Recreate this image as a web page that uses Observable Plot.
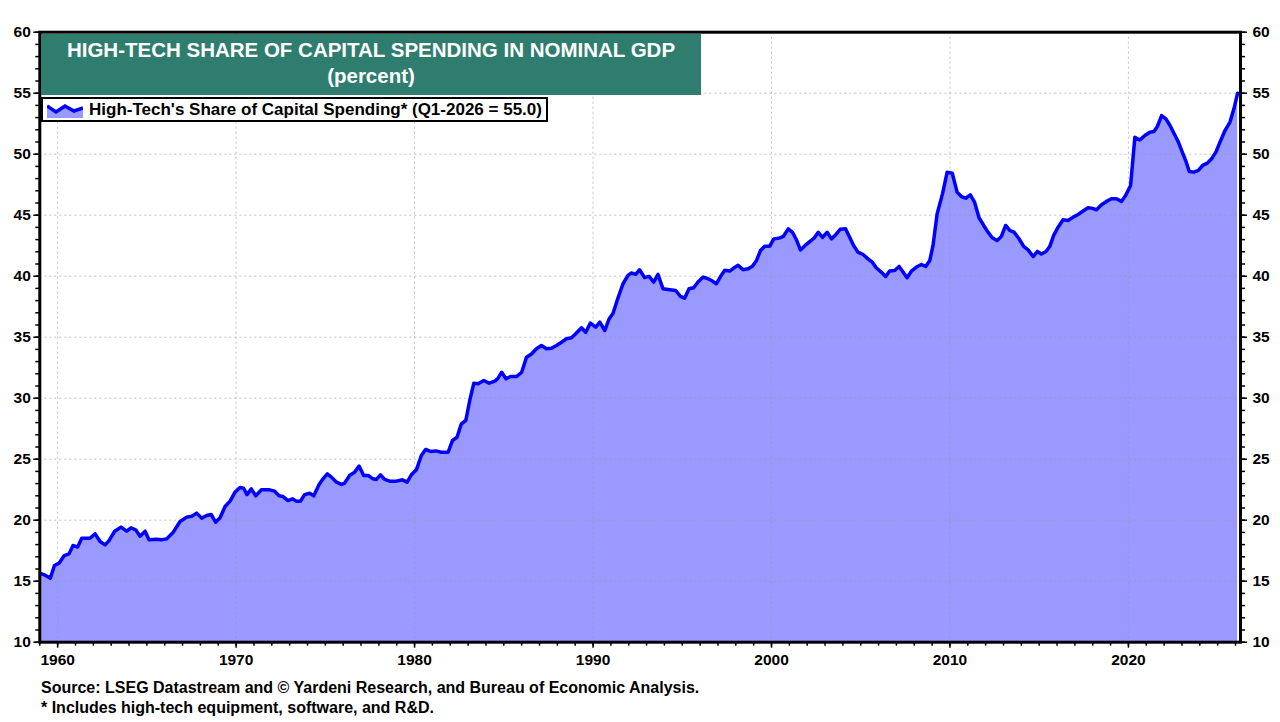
<!DOCTYPE html>
<html>
<head>
<meta charset="utf-8">
<script src="https://cdn.jsdelivr.net/npm/d3@7"></script>
<script src="https://cdn.jsdelivr.net/npm/@observablehq/plot@0.6"></script>
<style>
  html, body { margin: 0; padding: 0; background: #fff; }
  body { font-family: "Liberation Sans", Arial, sans-serif; }
  #wrap { position: relative; width: 1280px; height: 722px; overflow: hidden; background: #fff; }
  #title {
    position: absolute; left: 41px; top: 34px; width: 660px; height: 61px;
    background: #2e7d6e; color: #fff; font-weight: bold; font-size: 20.5px;
    text-align: center; line-height: 26px; padding-top: 3px; box-sizing: border-box;
  }
  #legend {
    position: absolute; left: 41px; top: 97px; width: 507px; height: 25px;
    background: #fff; border: 2px solid #000; box-sizing: border-box;
    font-weight: bold; font-size: 17px; color: #000; display: flex; align-items: center;
  }
  #legend svg { margin-left: 4px; margin-right: 6px; }
  #caption {
    font-weight: bold; font-size: 16px; color: #000; line-height: 20px;
    padding-left: 41px; padding-top: 6px;
  }
</style>
</head>
<body>
<div id="wrap">
  <div id="chart"></div>
  <div id="caption">
    <div>Source: LSEG Datastream and © Yardeni Research, and Bureau of Economic Analysis.</div>
    <div>* Includes high-tech equipment, software, and R&amp;D.</div>
  </div>
  <div id="title">HIGH-TECH SHARE OF CAPITAL SPENDING IN NOMINAL GDP<br>(percent)</div>
  <div id="legend">
    <svg width="36" height="16" viewBox="0 0 36 16">
      <polygon points="0,4 9,10 18,4 27,9 36,6 36,16 0,16" fill="#9999ff"></polygon>
      <polyline points="0,4 9,10 18,4 27,9 36,6" fill="none" stroke="#0000ff" stroke-width="3.5"></polyline>
    </svg>
    <span>High-Tech's Share of Capital Spending* (Q1-2026 = 55.0)</span>
  </div>
</div>
<script>
// Decimal-year positions of readings (quarterly series)
const dates = [
  1959.10,1959.33,1959.59,1959.82,1960.08,1960.37,1960.64,1960.86,1961.12,1961.35,1961.81,
  1962.10,1962.38,1962.66,1962.88,1963.18,1963.55,1963.87,1964.11,1964.37,1964.62,1964.90,
  1965.12,1965.55,1965.83,1966.11,1966.48,1966.86,1967.23,1967.51,1967.79,1968.07,1968.35,
  1968.60,1968.85,1969.10,1969.38,1969.66,1969.94,1970.22,1970.42,1970.61,1970.85,1971.10,
  1971.41,1971.88,1972.16,1972.41,1972.63,1972.91,1973.15,1973.38,1973.60,1973.84,1974.12,
  1974.35,1974.65,1974.87,1975.11,1975.34,1975.62,1975.90,1976.08,1976.36,1976.64,1976.89,
  1977.15,1977.40,1977.67,1977.86,1978.09,1978.33,1978.61,1978.98,1979.32,1979.58,1979.82,
  1980.10,1980.38,1980.62,1980.89,1981.18,1981.50,1981.88,1982.12,1982.38,1982.62,1982.87,
  1983.09,1983.32,1983.56,1983.88,1984.18,1984.50,1984.68,1984.88,1985.12,1985.38,1985.72,
  1986.00,1986.27,1986.55,1986.83,1987.11,1987.39,1987.67,1987.95,1988.23,1988.51,1988.79,
  1989.03,1989.35,1989.59,1989.85,1990.15,1990.38,1990.66,1990.90,1991.12,1991.40,1991.68,
  1991.96,1992.15,1992.39,1992.61,1992.89,1993.14,1993.40,1993.64,1993.92,1994.30,1994.63,
  1994.90,1995.13,1995.38,1995.64,1995.88,1996.17,1996.45,1996.69,1996.91,1997.15,1997.38,
  1997.66,1997.91,1998.13,1998.41,1998.69,1998.93,1999.16,1999.38,1999.62,1999.90,2000.13,
  2000.43,2000.66,2000.94,2001.18,2001.40,2001.62,2001.87,2002.14,2002.39,2002.62,2002.86,
  2003.12,2003.36,2003.60,2003.85,2004.15,2004.38,2004.60,2004.85,2005.13,2005.41,2005.65,
  2005.87,2006.15,2006.40,2006.62,2006.90,2007.15,2007.37,2007.60,2007.84,2008.12,2008.40,
  2008.64,2008.87,2009.05,2009.28,2009.58,2009.84,2010.13,2010.40,2010.64,2010.88,2011.14,
  2011.38,2011.63,2011.89,2012.13,2012.37,2012.64,2012.88,2013.12,2013.35,2013.59,2013.87,
  2014.13,2014.38,2014.66,2014.90,2015.12,2015.38,2015.59,2015.81,2016.06,2016.34,2016.62,
  2016.90,2017.18,2017.46,2017.74,2017.93,2018.21,2018.49,2018.77,2019.05,2019.33,2019.61,
  2019.85,2020.12,2020.36,2020.64,2020.92,2021.20,2021.43,2021.62,2021.86,2022.10,2022.33,
  2022.55,2022.80,2023.04,2023.22,2023.41,2023.67,2023.92,2024.16,2024.42,2024.66,2024.90,
  2025.13,2025.41,2025.69,2025.91,2026.12
];
// High-tech share of capital spending in nominal GDP, percent
const shares = [
  15.60,15.47,15.25,16.29,16.48,17.10,17.24,17.93,17.80,18.52,18.52,
  18.88,18.25,17.98,18.33,19.07,19.43,19.10,19.38,19.21,18.69,19.10,
  18.39,18.44,18.39,18.47,19.02,19.89,20.25,20.33,20.58,20.17,20.38,
  20.47,19.84,20.20,21.12,21.56,22.30,22.68,22.62,22.10,22.57,22.00,
  22.49,22.49,22.38,22.00,21.94,21.61,21.75,21.55,21.55,22.10,22.21,
  22.00,22.93,23.39,23.80,23.53,23.12,22.93,23.04,23.67,23.94,24.43,
  23.67,23.67,23.39,23.34,23.72,23.34,23.20,23.20,23.31,23.12,23.72,
  24.13,25.30,25.80,25.64,25.68,25.57,25.57,26.53,26.80,27.90,28.17,
  29.81,31.23,31.18,31.45,31.23,31.40,31.64,32.13,31.59,31.78,31.78,
  32.13,33.36,33.63,34.05,34.32,34.05,34.10,34.32,34.59,34.87,34.95,
  35.28,35.77,35.41,36.15,35.82,36.23,35.55,36.50,36.96,38.23,39.38,
  40.07,40.26,40.15,40.53,39.88,39.99,39.52,40.15,38.97,38.89,38.83,
  38.34,38.20,38.97,39.05,39.52,39.93,39.79,39.60,39.38,39.99,40.48,
  40.42,40.70,40.89,40.53,40.61,40.81,41.29,42.10,42.46,42.46,43.06,
  43.12,43.26,43.88,43.60,42.97,42.15,42.50,42.83,43.13,43.60,43.18,
  43.60,43.06,43.40,43.85,43.88,43.20,42.51,41.97,41.78,41.42,41.15,
  40.69,40.34,39.98,40.42,40.47,40.80,40.34,39.87,40.42,40.75,40.96,
  40.80,41.29,42.52,45.11,46.75,48.52,48.44,46.89,46.53,46.39,46.67,
  46.07,44.79,44.16,43.61,43.15,42.93,43.26,44.16,43.75,43.61,43.07,
  42.44,42.16,41.61,42.03,41.82,42.02,42.43,43.34,44.02,44.62,44.57,
  44.84,45.06,45.34,45.61,45.58,45.45,45.86,46.13,46.35,46.35,46.13,
  46.63,47.43,51.39,51.17,51.53,51.80,51.86,52.27,53.17,52.90,52.35,
  51.72,50.99,50.09,49.43,48.58,48.53,48.67,49.08,49.27,49.63,50.17,
  50.99,51.94,52.63,53.72,55.00
];
const yearTicks = [1960, 1970, 1980, 1990, 2000, 2010, 2020];
const minorYears = d3.range(1959, 2027, 1);
const valueTicks = [10, 15, 20, 25, 30, 35, 40, 45, 50, 55, 60];
const minorValues = d3.range(10, 61, 1);
const gridValues = [15, 20, 25, 30, 35, 40, 45, 50, 55];

const data = dates.map((t, i) => ({t, v: shares[i]}));

const axisFont = {fontSize: 15.5, fontWeight: "bold", fill: "#000"};
const chart = Plot.plot({
  width: 1280,
  height: 672,
  marginLeft: 39.3,
  marginRight: 40,
  marginTop: 31.7,
  marginBottom: 30.3,
  style: {fontFamily: "'Liberation Sans', Arial, sans-serif", background: "transparent", color: "#000", overflow: "visible"},
  x: {type: "linear", domain: [1959, 2026.28], axis: null},
  y: {domain: [10, 60], axis: null},
  marks: [
    Plot.areaY(data, {x: "t", y1: 10, y2: "v", fill: "#9999ff"}),
    Plot.ruleX(yearTicks, {stroke: "#999", strokeOpacity: 0.6, strokeDasharray: "2,3"}),
    Plot.ruleY(gridValues, {stroke: "#999", strokeOpacity: 0.6, strokeDasharray: "2,3"}),
    Plot.lineY(data, {x: "t", y: "v", stroke: "#0000ff", strokeWidth: 3.5, strokeLinejoin: "round"}),
    Plot.axisY(minorValues, {anchor: "left", tickSize: 4, strokeWidth: 1.5, tickFormat: () => "", label: null}),
    Plot.axisY(minorValues, {anchor: "right", tickSize: 4, strokeWidth: 1.5, tickFormat: () => "", label: null}),
    Plot.axisY(valueTicks, {anchor: "left", tickSize: 6, tickPadding: 3, strokeWidth: 1.5, label: null, ...axisFont}),
    Plot.axisY(valueTicks, {anchor: "right", tickSize: 6, tickPadding: 6, strokeWidth: 1.5, label: null, ...axisFont}),
    Plot.axisX(minorYears, {anchor: "bottom", tickSize: 4, strokeWidth: 1.5, tickFormat: () => "", label: null}),
    Plot.axisX(yearTicks, {anchor: "bottom", tickSize: 6, tickPadding: 6, strokeWidth: 1.5, tickFormat: d => String(d), label: null, ...axisFont}),
    Plot.frame({stroke: "#000", strokeWidth: 3})
  ]
});
document.getElementById("chart").appendChild(chart);
</script>
</body>
</html>
